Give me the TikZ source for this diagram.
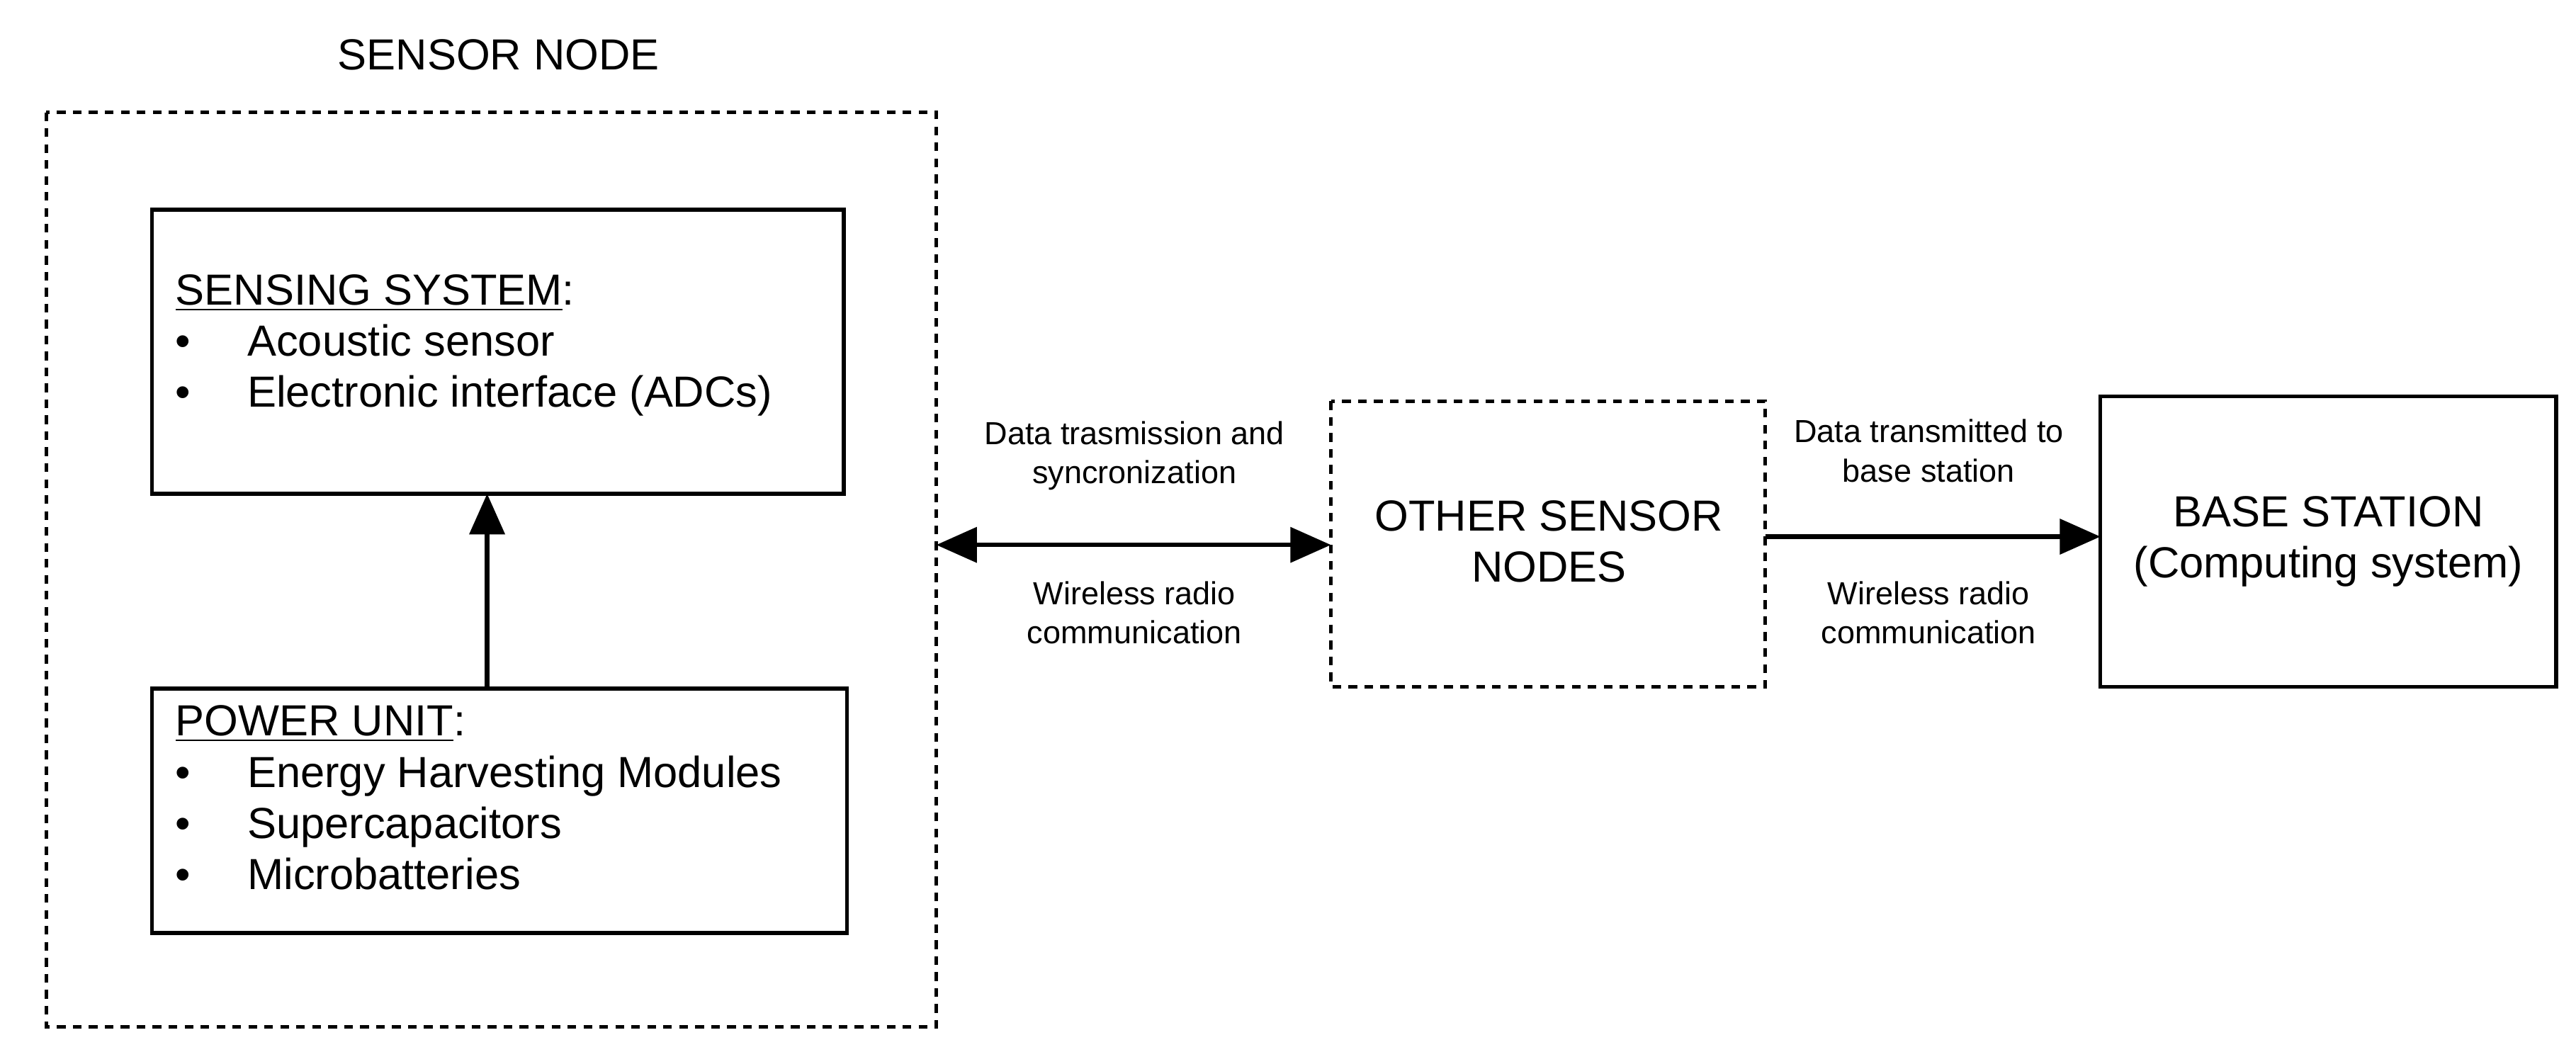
\documentclass[tikz,border=0pt]{standalone}
\usepackage{fontspec}
\setmainfont{Liberation Sans}
\usetikzlibrary{arrows.meta}
\begin{document}
\begin{tikzpicture}[x=0.02cm,y=-0.02cm,
 box/.style={draw,line width=1.3pt},
 dbox/.style={draw,line width=1.3pt,dash pattern=on 3pt off 2.5pt},
 arr/.style={line width=1.6pt,-{Triangle[length=14pt,width=12pt]}},
 big/.style={font=\fontsize{15}{17.6}\selectfont},
 small/.style={font=\fontsize{11}{13.5}\selectfont,align=center}]
\useasboundingbox (0,0) rectangle (1560,637);
\node[big] (title) at (302,33) {SENSOR NODE};
\draw[dbox] (28,68) rectangle (567,622);
\coordinate (outerR) at (567,330);
\draw[box] (92,127) rectangle (511,299);
\coordinate (sensB) at (295,299);
\node[big,anchor=north west,align=left,inner sep=0pt] (sens) at (106,166) {\underline{SENSING SYSTEM}:\\
\textbullet\hspace{1.3em}Acoustic sensor\\
\textbullet\hspace{1.3em}Electronic interface (ADCs)};
\draw[box] (92,417) rectangle (513,565);
\coordinate (powT) at (295,417);
\node[big,anchor=north west,align=left,inner sep=0pt] (pow) at (106,427) {\underline{POWER UNIT}:\\
\textbullet\hspace{1.3em}Energy Harvesting Modules\\
\textbullet\hspace{1.3em}Supercapacitors\\
\textbullet\hspace{1.3em}Microbatteries};
\draw[arr] (powT) -- (sensB);
\draw[dbox] (806,243) rectangle (1069,416);
\coordinate (othL) at (806,330);
\coordinate (othR) at (1069,325);
\node[big,align=center] (oth) at (938,328) {OTHER SENSOR\\NODES};
\draw[box] (1272,240) rectangle (1548,416);
\coordinate (baseL) at (1272,325);
\node[big,align=center] (base) at (1410,328) {BASE STATION\\(Computing system)};
\draw[line width=1.6pt,{Triangle[length=14pt,width=12pt]}-{Triangle[length=14pt,width=12pt]}] (outerR) -- (othL);
\draw[arr] (othR) -- (baseL);
\node[small] (l1) at (687,276) {Data trasmission and\\syncronization};
\node[small] (l2) at (687,371) {Wireless radio\\communication};
\node[small] (l3) at (1168,273) {Data transmitted to\\base station};
\node[small] (l4) at (1168,371) {Wireless radio\\communication};
\end{tikzpicture}
\end{document}
